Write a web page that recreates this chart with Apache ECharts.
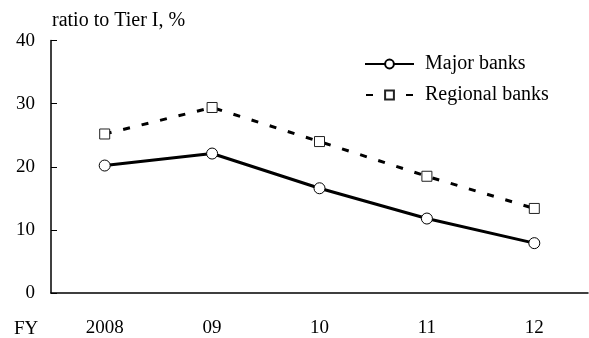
<!DOCTYPE html>
<html>
<head>
<meta charset="utf-8">
<style>
  html, body { margin: 0; padding: 0; background: #fff; }
  #chart { width: 589px; height: 338px; }
</style>
<script src="https://cdn.jsdelivr.net/npm/echarts@6/dist/echarts.min.js"></script>
</head>
<body>
<div id="chart"></div>
<script>
// Fiscal years on the horizontal axis
const years = ['2008', '09', '10', '11', '12'];
// Ratio to Tier I capital, %
const majorBanks = [20.2, 22.1, 16.6, 11.8, 7.9];
const regionalBanks = [25.2, 29.4, 24.0, 18.5, 13.4];
// Vertical axis range and step
const yMin = 0, yMax = 40, yStep = 10;

const FONT = '"Liberation Serif", "Times New Roman", serif';
const chart = echarts.init(document.getElementById('chart'), null, { renderer: 'canvas' });

chart.setOption({
  animation: false,
  backgroundColor: '#ffffff',
  textStyle: { fontFamily: FONT, color: '#000' },
  grid: { left: 51, right: 1, top: 40.6, bottom: 43, containLabel: false },
  legend: {
    orient: 'vertical',
    left: 364,
    top: 54,
    padding: 0,
    itemWidth: 49,
    itemHeight: 11,
    itemGap: 11,
    textStyle: { fontFamily: FONT, fontSize: 20, lineHeight: 20, color: '#000', padding: [0, 0, 0, 6] },
    data: [
      { name: 'Major banks' },
      { name: 'Regional banks', lineStyle: { type: [7, 33], dashOffset: -1 } }
    ]
  },
  xAxis: {
    type: 'category',
    data: years,
    boundaryGap: true,
    axisLine: { lineStyle: { color: '#000', width: 1.5 } },
    axisTick: { inside: true, length: 6, interval: 0, lineStyle: { color: '#000', width: 1 } },
    axisLabel: { fontFamily: FONT, fontSize: 19, color: '#000', margin: 26 },
    splitLine: { show: false }
  },
  yAxis: {
    type: 'value',
    min: yMin,
    max: yMax,
    interval: yStep,
    name: 'ratio to Tier I, %',
    nameLocation: 'end',
    nameGap: 10,
    nameTextStyle: { fontFamily: FONT, fontSize: 20, color: '#000', align: 'left', verticalAlign: 'bottom', padding: [0, 0, 0, 1] },
    axisLine: { show: true, lineStyle: { color: '#000', width: 1.5 } },
    axisTick: { show: true, inside: true, length: 6, lineStyle: { color: '#000', width: 1 } },
    axisLabel: { fontFamily: FONT, fontSize: 19, color: '#000', margin: 16 },
    splitLine: { show: false }
  },
  graphic: [{
    type: 'text',
    left: 14,
    top: 320,
    style: { text: 'FY', font: '19px ' + FONT, fill: '#000' }
  }],
  series: [
    {
      name: 'Major banks',
      type: 'line',
      data: majorBanks,
      symbol: 'circle',
      symbolSize: 11,
      showAllSymbol: true,
      lineStyle: { color: '#000', width: 3 },
      itemStyle: { color: '#fff', borderColor: '#000', borderWidth: 1 },
      z: 3
    },
    {
      name: 'Regional banks',
      type: 'line',
      data: regionalBanks,
      symbol: 'rect',
      symbolSize: 10,
      showAllSymbol: true,
      lineStyle: { color: '#000', width: 3, type: [7, 12] },
      itemStyle: { color: '#fff', borderColor: '#222', borderWidth: 1 },
      z: 2
    }
  ]
});
</script>
</body>
</html>
